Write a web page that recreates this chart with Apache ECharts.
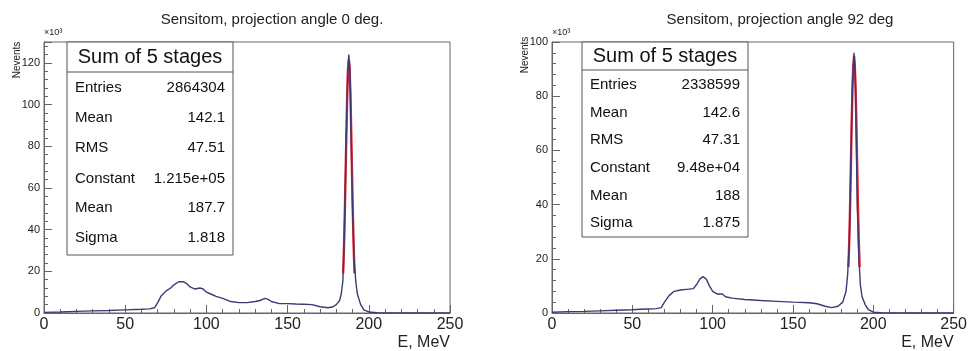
<!DOCTYPE html>
<html>
<head>
<meta charset="utf-8">
<script src="https://cdn.jsdelivr.net/npm/echarts@6/dist/echarts.min.js"></script>
<style>
  html, body { margin: 0; padding: 0; background: #fff; }
  #chart { width: 970px; height: 351px; }
</style>
</head>
<body>
<div id="chart"></div>
<script>
"use strict";
// histogram, projection angle 0 deg (E in MeV, counts in 10^3)
const e0 = [0, 10, 20, 30, 40, 50, 60, 65, 68, 70, 72, 75, 78, 80, 83, 86, 88, 90, 93, 96, 98, 100, 103, 106, 110, 115, 120, 125, 130, 133, 136, 138, 140, 145, 150, 155, 160, 165, 170, 175, 178, 180, 182, 183, 184, 184.5, 185, 186, 187, 187.7, 188.5, 189, 190, 191, 192, 193, 195, 197, 200, 205, 250];
const n0 = [0.3, 0.5, 0.8, 1.0, 1.2, 1.5, 1.8, 2.0, 2.5, 5.0, 8.0, 10.5, 12.0, 13.5, 15.0, 15.0, 14.0, 12.5, 11.5, 12.0, 11.5, 10.0, 9.0, 8.0, 7.0, 5.5, 5.0, 5.0, 5.5, 6.0, 7.0, 6.5, 5.5, 4.5, 4.5, 4.3, 4.2, 4.0, 3.0, 2.5, 3.0, 4.0, 6.0, 9.0, 15.0, 25.0, 40.0, 80.0, 115.0, 124.0, 115.0, 90.0, 50.0, 25.0, 15.0, 9.0, 4.0, 1.5, 0.5, 0.1, 0.0];
// gaussian fit curve, angle 0
const fitE0 = [184.2, 184.7, 185.2, 185.7, 186.2, 186.7, 187.2, 187.7, 188.2, 188.7, 189.2, 189.7, 190.2, 190.7, 191.2];
const fit0 = [19, 31, 47, 66, 86.5, 104.5, 117, 121.5, 117, 104.5, 86.5, 66, 47, 31, 19];

// histogram, projection angle 92 deg
const e92 = [0, 10, 20, 30, 40, 50, 55, 60, 65, 68, 70, 73, 76, 80, 85, 88, 90, 92, 94, 96, 98, 100, 103, 106, 108, 112, 120, 130, 140, 150, 160, 165, 170, 174, 178, 181, 183, 184, 185, 186, 187, 188, 188.8, 189.5, 190, 191, 192, 193, 195, 197, 200, 205, 250];
const n92 = [0.3, 0.5, 0.6, 0.8, 1.0, 1.2, 1.4, 1.5, 1.6, 2.0, 4.0, 6.5, 8.0, 8.5, 8.8, 9.0, 10.5, 12.5, 13.5, 12.5, 10.0, 8.0, 7.0, 7.0, 6.0, 5.5, 5.0, 4.6, 4.3, 4.0, 3.8, 3.4, 2.5, 2.0, 2.5, 4.0, 8.0, 14.0, 25.0, 55.0, 85.0, 96.0, 88.0, 60.0, 40.0, 20.0, 10.0, 6.0, 3.0, 1.2, 0.3, 0.1, 0.0];
const fitE92 = [184.5, 185, 185.5, 186, 186.5, 187, 187.5, 188, 188.5, 189, 189.5, 190, 190.5, 191, 191.5];
const fit92 = [17, 26, 38, 53, 69, 82, 91, 94.8, 91, 82, 69, 53, 38, 26, 17];

const statLabels = ['Entries', 'Mean', 'RMS', 'Constant', 'Mean', 'Sigma'];
const stats0 = ['2864304', '142.1', '47.51', '1.215e+05', '187.7', '1.818'];
const stats92 = ['2338599', '142.6', '47.31', '9.48e+04', '188', '1.875'];

const titles = ['Sensitom, projection angle 0 deg.', 'Sensitom, projection angle 92 deg'];

const FONT = 'Liberation Sans';
const HIST = '#3a3a78';
const FIT = '#e3262b';

function pairs(xs, ys) {
    return xs.map((x, i) => [x, ys[i]]);
}

function statBox(x, y, w, h, headH, rowYs, values) {
    const children = [
        { type: 'rect', shape: { x: x, y: y, width: w, height: h },
          style: { fill: '#fff', stroke: '#555', lineWidth: 1 } },
        { type: 'line', shape: { x1: x, y1: y + headH, x2: x + w, y2: y + headH },
          style: { stroke: '#555', lineWidth: 1 } },
        { type: 'text', x: x + w / 2, y: y + headH / 2,
          style: { text: 'Sum of 5 stages', fontFamily: FONT, fontSize: 20, fill: '#111',
                   align: 'center', verticalAlign: 'middle' } }
    ];
    statLabels.forEach((lab, i) => {
        children.push({ type: 'text', x: x + 8, y: rowYs[i],
            style: { text: lab, fontFamily: FONT, fontSize: 15, fill: '#111', verticalAlign: 'middle' } });
        children.push({ type: 'text', x: x + w - 8, y: rowYs[i],
            style: { text: values[i], fontFamily: FONT, fontSize: 15, fill: '#111',
                     align: 'right', verticalAlign: 'middle' } });
    });
    return { type: 'group', z: 100, children: children };
}

function xAxisOf(idx) {
    return {
        gridIndex: idx, type: 'value', min: 0, max: 250, interval: 50,
        axisLine: { show: true, onZero: false, lineStyle: { color: '#666' } },
        axisTick: { inside: true, length: 8, lineStyle: { color: '#666' } },
        minorTick: { show: true, splitNumber: 5, length: 4, lineStyle: { color: '#666' } },
        splitLine: { show: false },
        axisLabel: { fontFamily: FONT, fontSize: 16, color: '#222', margin: 4 },
        name: 'E, MeV', nameLocation: 'end', nameGap: 0,
        nameTextStyle: { fontFamily: FONT, fontSize: 16, color: '#222', align: 'right',
                         verticalAlign: 'top', padding: [22, 0, 0, 0] }
    };
}

function yAxisOf(idx, max) {
    return {
        gridIndex: idx, type: 'value', min: 0, max: max, interval: 20,
        axisLine: { show: true, lineStyle: { color: '#666' } },
        axisTick: { inside: true, length: 8, lineStyle: { color: '#666' } },
        minorTick: { show: true, splitNumber: 5, length: 4, lineStyle: { color: '#666' } },
        splitLine: { show: false },
        axisLabel: { fontFamily: FONT, fontSize: 11, color: '#222', margin: 4,
                     showMaxLabel: max % 20 === 0 }
    };
}

const chart = echarts.init(document.getElementById('chart'), null, { renderer: 'canvas' });

const option = {
    animation: false,
    backgroundColor: '#fff',
    title: [
        { text: titles[0], left: 267, top: 7, textAlign: 'center',
          textStyle: { fontFamily: FONT, fontSize: 15, fontWeight: 'normal', color: '#222' } },
        { text: titles[1], left: 775, top: 7, textAlign: 'center',
          textStyle: { fontFamily: FONT, fontSize: 15, fontWeight: 'normal', color: '#222' } }
    ],
    grid: [
        { left: 44, right: 520, top: 42, bottom: 36, show: true, borderColor: '#666', borderWidth: 1 },
        { left: 552, right: 13, top: 42, bottom: 36, show: true, borderColor: '#666', borderWidth: 1 }
    ],
    xAxis: [xAxisOf(0), xAxisOf(1)],
    yAxis: [yAxisOf(0, 130), yAxisOf(1, 100)],
    series: [
        { type: 'line', xAxisIndex: 0, yAxisIndex: 0, data: pairs(fitE0, fit0), showSymbol: false,
          lineStyle: { color: FIT, width: 2.4 }, z: 2 },
        { type: 'line', xAxisIndex: 0, yAxisIndex: 0, data: pairs(e0, n0), showSymbol: false,
          lineStyle: { color: HIST, width: 1.4 }, z: 3 },
        { type: 'line', xAxisIndex: 1, yAxisIndex: 1, data: pairs(fitE92, fit92), showSymbol: false,
          lineStyle: { color: FIT, width: 2.4 }, z: 2 },
        { type: 'line', xAxisIndex: 1, yAxisIndex: 1, data: pairs(e92, n92), showSymbol: false,
          lineStyle: { color: HIST, width: 1.4 }, z: 3 }
    ],
    graphic: [
        statBox(67, 42, 166, 213, 30, [88, 118, 148, 179, 208, 238], stats0),
        statBox(582, 42, 166, 195, 28, [85, 113, 140, 168, 196, 223], stats92),
        { type: 'text', x: 17, y: 60, rotation: Math.PI / 2,
          style: { text: 'Nevents', fontFamily: FONT, fontSize: 10, fill: '#222',
                   align: 'center', verticalAlign: 'middle' } },
        { type: 'text', x: 525, y: 55, rotation: Math.PI / 2,
          style: { text: 'Nevents', fontFamily: FONT, fontSize: 10, fill: '#222',
                   align: 'center', verticalAlign: 'middle' } },
        { type: 'text', x: 44, y: 33,
          style: { text: '×10³', fontFamily: FONT, fontSize: 9, fill: '#222', verticalAlign: 'middle' } },
        { type: 'text', x: 552, y: 33,
          style: { text: '×10³', fontFamily: FONT, fontSize: 9, fill: '#222', verticalAlign: 'middle' } }
    ]
};
chart.setOption(option);
</script>
</body>
</html>
